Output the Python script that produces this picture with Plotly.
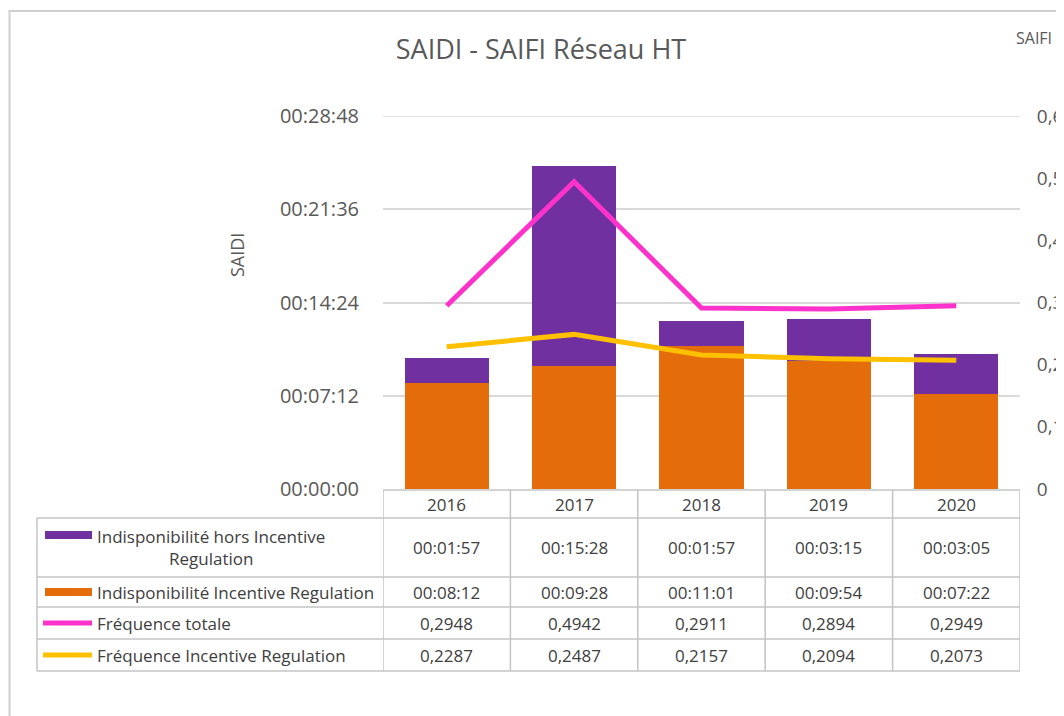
import plotly.graph_objects as go

# ---------------- data ----------------
years = ["2016", "2017", "2018", "2019", "2020"]
saidi_hors_ir = ["00:01:57", "00:15:28", "00:01:57", "00:03:15", "00:03:05"]
saidi_ir = ["00:08:12", "00:09:28", "00:11:01", "00:09:54", "00:07:22"]
freq_totale = [0.2948, 0.4942, 0.2911, 0.2894, 0.2949]
freq_ir = [0.2287, 0.2487, 0.2157, 0.2094, 0.2073]

left_ticks = ["00:00:00", "00:07:12", "00:14:24", "00:21:36", "00:28:48"]
right_ticks = [0, 0.1, 0.2, 0.3, 0.4, 0.5, 0.6]

series_names = [
    "Indisponibilité hors Incentive<br>Regulation",
    "Indisponibilité Incentive Regulation",
    "Fréquence totale",
    "Fréquence Incentive Regulation",
]


def to_sec(s):
    h, m, sec = (int(v) for v in s.split(":"))
    return h * 3600 + m * 60 + sec


def fmt_num(v):
    return f"{v:.4f}".replace(".", ",")


def fmt_tick(v):
    return "0" if v == 0 else f"{v:.1f}".replace(".", ",")


hors_sec = [to_sec(s) for s in saidi_hors_ir]
ir_sec = [to_sec(s) for s in saidi_ir]
left_vals = [to_sec(s) for s in left_ticks]

# ---------------- layout geometry ----------------
OFF = 8  # page body margin
W, H = 1064 - OFF, 716 - OFF
L, R, T, B = 383 - OFF, 1020 - OFF, 116 - OFF, 489 - OFF  # plot area in figure px

ORANGE = "#E46C0A"
PURPLE = "#7030A0"
PINK = "#FF33CC"
YELLOW = "#FFC000"
GRID = "#d9d9d9"
TBL = "#c4c4c4"
TXT = "#595959"
CELL = "#404040"
FONT = "Open Sans"


def px(x):  # page px -> paper x
    return ((x - OFF) - L) / (R - L)


def py(y):  # page px -> paper y
    return (B - (y - OFF)) / (B - T)


fig = go.Figure()
fig.add_trace(go.Bar(x=years, y=ir_sec, name=series_names[1], marker_color=ORANGE,
                     marker_line_width=0, width=0.66))
fig.add_trace(go.Bar(x=years, y=hors_sec, name=series_names[0], marker_color=PURPLE,
                     marker_line_width=0, width=0.66))
fig.add_trace(go.Scatter(x=years, y=freq_totale, name=series_names[2], mode="lines",
                         line=dict(color=PINK, width=5), yaxis="y2"))
fig.add_trace(go.Scatter(x=years, y=freq_ir, name=series_names[3], mode="lines",
                         line=dict(color=YELLOW, width=5), yaxis="y2"))

shapes = []
annotations = []

# outer chart border
shapes.append(dict(type="rect", xref="paper", yref="paper",
                   x0=px(OFF + 1.5), x1=px(1100), y0=py(11), y1=py(760),
                   line=dict(color="#d0d0d0", width=2), layer="below"))

# top gridline
shapes.append(dict(type="line", xref="paper", yref="y", x0=0, x1=1,
                   y0=left_vals[-1], y1=left_vals[-1],
                   line=dict(color=GRID, width=1.5), layer="below"))

# data table lines
row_lines = [518, 577, 607, 639, 671]
for yl in row_lines:
    shapes.append(dict(type="line", xref="paper", yref="paper",
                       x0=px(37), x1=1, y0=py(yl), y1=py(yl),
                       line=dict(color=TBL, width=1.5)))
shapes.append(dict(type="line", xref="paper", yref="paper",
                   x0=0, x1=1, y0=py(490), y1=py(490),
                   line=dict(color=TBL, width=1.5)))
shapes.append(dict(type="line", xref="paper", yref="paper",
                   x0=px(37), x1=px(37), y0=py(518), y1=py(671),
                   line=dict(color=TBL, width=1.5)))
for i in range(len(years) + 1):
    shapes.append(dict(type="line", xref="x", yref="paper",
                       x0=i - 0.5, x1=i - 0.5, y0=py(490), y1=py(671),
                       line=dict(color=TBL, width=1.5)))

# row centres
row_y = [547, 592, 623, 655]

# legend keys in table
shapes.append(dict(type="rect", xref="paper", yref="paper",
                   x0=px(45), x1=px(92), y0=py(531), y1=py(539),
                   fillcolor=PURPLE, line_width=0))
shapes.append(dict(type="rect", xref="paper", yref="paper",
                   x0=px(45), x1=px(92), y0=py(588), y1=py(596),
                   fillcolor=ORANGE, line_width=0))
shapes.append(dict(type="line", xref="paper", yref="paper",
                   x0=px(43), x1=px(92), y0=py(623), y1=py(623),
                   line=dict(color=PINK, width=5)))
shapes.append(dict(type="line", xref="paper", yref="paper",
                   x0=px(43), x1=px(92), y0=py(655), y1=py(655),
                   line=dict(color=YELLOW, width=5)))

for name, yc in zip(series_names, row_y):
    annotations.append(dict(xref="paper", yref="paper", x=px(95), y=py(yc),
                            text=name, showarrow=False, xanchor="left",
                            yanchor="middle", align="center",
                            font=dict(family=FONT, size=17, color=CELL)))

# table values
row_texts = [saidi_hors_ir, saidi_ir,
             [fmt_num(v) for v in freq_totale],
             [fmt_num(v) for v in freq_ir]]
for texts, yc in zip(row_texts, row_y):
    for i, t in enumerate(texts):
        annotations.append(dict(xref="x", yref="paper", x=i, y=py(yc), text=t,
                                showarrow=False, xanchor="center", yanchor="middle",
                                font=dict(family=FONT, size=17, color=CELL)))
for i, yr in enumerate(years):
    annotations.append(dict(xref="x", yref="paper", x=i, y=py(504), text=yr,
                            showarrow=False, xanchor="center", yanchor="middle",
                            font=dict(family=FONT, size=17, color=CELL)))

# axis titles
annotations.append(dict(xref="paper", yref="paper", x=px(237), y=py(255), text="SAIDI",
                        showarrow=False, textangle=-90, xanchor="center", yanchor="middle",
                        font=dict(family=FONT, size=18, color=TXT)))
annotations.append(dict(xref="paper", yref="paper", x=px(1014), y=py(38), text="SAIFI",
                        showarrow=False, xanchor="left", yanchor="middle",
                        font=dict(family=FONT, size=16, color=TXT)))

fig.update_layout(
    width=W, height=H, autosize=False,
    margin=dict(l=L, r=W - R, t=T, b=H - B, autoexpand=False),
    paper_bgcolor="white", plot_bgcolor="white",
    barmode="stack", showlegend=False,
    title=dict(text="SAIDI - SAIFI Réseau HT", xref="container", yref="container",
               x=(541 - OFF) / W, y=1 - (50 - OFF) / H, xanchor="center", yanchor="middle",
               font=dict(family=FONT, size=27, color=TXT)),
    xaxis=dict(type="category", range=[-0.5, len(years) - 0.5], showticklabels=False,
               showgrid=False, zeroline=False, showline=False, ticks=""),
    yaxis=dict(range=[0, left_vals[-1]], tickvals=left_vals, ticktext=left_ticks,
               showgrid=True, gridcolor=GRID, gridwidth=1.5, zeroline=False,
               showline=False, ticks="outside", ticklen=19, tickcolor="rgba(0,0,0,0)",
               automargin=False,
               tickfont=dict(family=FONT, size=20, color=TXT)),
    yaxis2=dict(overlaying="y", side="right", range=[0, 0.6], tickvals=right_ticks,
                ticktext=[fmt_tick(v) for v in right_ticks], showgrid=False,
                zeroline=False, showline=False, ticks="outside", ticklen=12,
                tickcolor="rgba(0,0,0,0)", automargin=False,
                tickfont=dict(family=FONT, size=19, color=TXT)),
    shapes=shapes, annotations=annotations,
    font=dict(family=FONT, color=TXT),
)

fig.write_html("out.html")
